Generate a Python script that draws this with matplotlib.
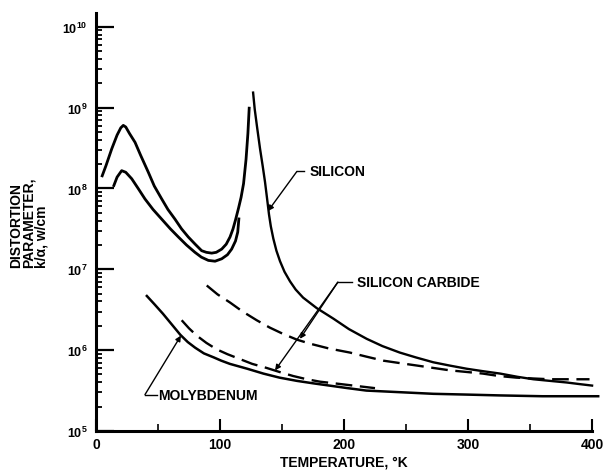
import numpy as np
import matplotlib
matplotlib.use('Agg')
import matplotlib.pyplot as plt
from matplotlib.ticker import FixedLocator, NullFormatter

plt.rcParams['font.family'] = ['Liberation Sans', 'DejaVu Sans']
plt.rcParams['font.weight'] = 'bold'
plt.rcParams['mathtext.fontset'] = 'custom'
plt.rcParams['mathtext.rm'] = 'Liberation Sans:bold'
plt.rcParams['mathtext.bf'] = 'Liberation Sans:bold'
plt.rcParams['lines.scale_dashes'] = False

# values read off the chart as decade exponents (log10 of W/cm)
# silicon, low temperature branch (upper), runs into the left side of the spike
si_up_t = [4.6, 8, 12.7, 17, 20, 22, 24, 27, 31.5, 36, 42.2, 47, 53, 58, 63.7, 69, 74.4, 80, 85.2,
           89, 93.3, 97, 101.4, 105, 108.1, 110.5, 112.5, 115, 117, 119, 121, 122.5, 123.6]
si_up_log = [8.14, 8.28, 8.49, 8.66, 8.75, 8.78, 8.76, 8.68, 8.57, 8.41, 8.20, 8.03, 7.87, 7.74, 7.62,
             7.50, 7.40, 7.31, 7.23, 7.21, 7.20, 7.21, 7.25, 7.31, 7.40, 7.50, 7.61, 7.76, 7.89, 8.06,
             8.36, 8.68, 9.01]

# silicon, low temperature branch (lower)
si_lo_t = [14, 17, 20.7, 24, 28.8, 34, 39.5, 46, 53, 60, 66.4, 73, 79.8, 85, 90.6, 96, 101.4, 106,
           109.4, 112.5, 114.3, 115.3]
si_lo_log = [8.02, 8.14, 8.22, 8.20, 8.12, 8.00, 7.87, 7.74, 7.62, 7.50, 7.40, 7.30, 7.21, 7.15, 7.11,
             7.10, 7.13, 7.18, 7.25, 7.35, 7.46, 7.64]

# silicon, high temperature side of the spike
si_hi_t = [126.6, 128, 129.8, 132.3, 134.5, 136.3, 138, 139.5, 141, 143, 145.5, 148.4, 152, 156.5,
           161, 167, 178, 191.4, 204, 218.3, 231, 245, 258, 272, 285, 299, 312, 326, 340, 352.7, 366,
           379.6, 390, 401]
si_hi_log = [9.20, 8.98, 8.77, 8.49, 8.27, 8.08, 7.87, 7.68, 7.53, 7.38, 7.23, 7.10, 6.97, 6.85, 6.75,
             6.65, 6.52, 6.39, 6.26, 6.14, 6.05, 5.97, 5.91, 5.85, 5.81, 5.77, 5.74, 5.71, 5.67, 5.64,
             5.62, 5.60, 5.58, 5.56]

# silicon carbide (two dashed curves)
sic_a_t = [89.3, 98, 108, 118, 129.6, 140, 151, 162, 172.6, 188, 204.8, 218, 231.7, 245, 258.6, 272,
           285.5, 299, 312, 325, 339, 352, 366, 380, 398]
sic_a_log = [6.80, 6.69, 6.59, 6.48, 6.37, 6.28, 6.20, 6.13, 6.08, 6.02, 5.97, 5.92, 5.87, 5.84, 5.81,
             5.78, 5.75, 5.73, 5.71, 5.68, 5.66, 5.65, 5.64, 5.64, 5.64]
sic_b_t = [69.1, 75, 81.2, 89, 97.3, 106, 116, 126, 137.6, 148, 159, 170, 180.6, 192, 203, 214, 225]
sic_b_log = [6.37, 6.27, 6.18, 6.09, 6.01, 5.95, 5.89, 5.83, 5.78, 5.73, 5.68, 5.64, 5.61, 5.59, 5.57,
             5.55, 5.53]

# molybdenum
mo_t = [41, 47, 54, 61, 68, 74, 80, 87, 95, 101, 108, 115, 122, 135, 148, 162, 175, 189, 203, 218,
        245, 272, 300, 326, 360, 405]
mo_log = [6.67, 6.57, 6.45, 6.32, 6.19, 6.10, 6.03, 5.96, 5.91, 5.87, 5.83, 5.80, 5.77, 5.71, 5.66,
          5.62, 5.59, 5.56, 5.53, 5.50, 5.48, 5.46, 5.45, 5.44, 5.43, 5.43]

x_ticks = [0, 100, 200, 300, 400]
y_ticks = [1e5, 1e6, 1e7, 1e8, 1e9, 1e10]
y_ticklabels = [r'$\mathbf{10^{5}}$', r'$\mathbf{10^{6}}$', r'$\mathbf{10^{7}}$',
                r'$\mathbf{10^{8}}$', r'$\mathbf{10^{9}}$', r'$\mathbf{10^{10}}$']


def vals(logs):
    return np.power(10.0, logs)


fig = plt.figure(figsize=(6.13, 4.77), dpi=100)
ax = fig.add_axes([96/613, 45/477, 496/613, 418/477])

ax.plot(si_up_t, vals(si_up_log), color='k', lw=2.0, solid_capstyle='butt', solid_joinstyle='round')
ax.plot(si_lo_t, vals(si_lo_log), color='k', lw=2.0, solid_capstyle='butt', solid_joinstyle='round')
ax.plot(si_hi_t, vals(si_hi_log), color='k', lw=1.7, solid_capstyle='butt', clip_on=False)
ax.plot(sic_a_t, vals(sic_a_log), color='k', lw=1.7, dashes=(12, 5.5))
ax.plot(sic_b_t, vals(sic_b_log), color='k', lw=1.7, dashes=(12, 5.5))
ax.plot(mo_t, vals(mo_log), color='k', lw=1.8, clip_on=False)

ax.set_yscale('log')
ax.set_xlim(0, 400)
ax.set_ylim(1e5, 10**10.17)

for s in ['top', 'right']:
    ax.spines[s].set_visible(False)
ax.spines['left'].set_linewidth(2.2)
ax.spines['bottom'].set_linewidth(2.2)

ax.xaxis.set_major_locator(FixedLocator(x_ticks))
ax.xaxis.set_minor_locator(FixedLocator([50, 150, 250, 350]))
ax.yaxis.set_major_locator(FixedLocator(y_ticks))
ax.set_yticklabels(y_ticklabels)
ax.yaxis.set_minor_locator(FixedLocator([m * 10.0**e for e in range(5, 10) for m in range(2, 10)]))
ax.yaxis.set_minor_formatter(NullFormatter())

ax.tick_params(axis='y', which='major', direction='in', length=13, width=1.6, pad=6, labelsize=9)
ax.tick_params(axis='y', which='minor', direction='in', length=4, width=1.3)
ax.tick_params(axis='x', which='major', direction='in', length=9, width=1.5, pad=4, labelsize=10)
ax.tick_params(axis='x', which='minor', direction='in', length=5, width=1.2)

ax.set_xlabel('TEMPERATURE, °K', fontsize=10, fontweight='bold', labelpad=3)
fig.text(29/613, 1 - 223/477, 'DISTORTION\nPARAMETER,\nk/α, w/cm', rotation=90, ha='center',
         va='center', multialignment='left', fontsize=10, fontweight='bold', linespacing=0.9)

# labels with leader lines: (text, text x, y, corner x, horizontal end x, arrow tips)
labels = [
    ('SILICON', 172.6, 10**8.21, 162, 167.7, [(138.7, 10**7.72)]),
    ('SILICON CARBIDE', 210.5, 10**6.84, 195, 206.5, [(164.5, 10**6.14), (144.4, 10**5.75)]),
    ('MOLYBDENUM', 50.5, 10**5.45, 39.5, 49.2, [(68.5, 10**6.18)]),
]
for txt, tx, ty, cx, hx, tips in labels:
    ax.text(tx, ty, txt, ha='left', va='center', fontsize=10, fontweight='bold')
    ax.plot([cx, hx], [ty, ty], color='k', lw=1.0)
    for px, py in tips:
        ax.annotate('', xy=(px, py), xytext=(cx, ty),
                    arrowprops=dict(arrowstyle='-|>', color='k', lw=1.0, mutation_scale=8,
                                    shrinkA=0, shrinkB=0))

fig.savefig('out.png', dpi=100)
